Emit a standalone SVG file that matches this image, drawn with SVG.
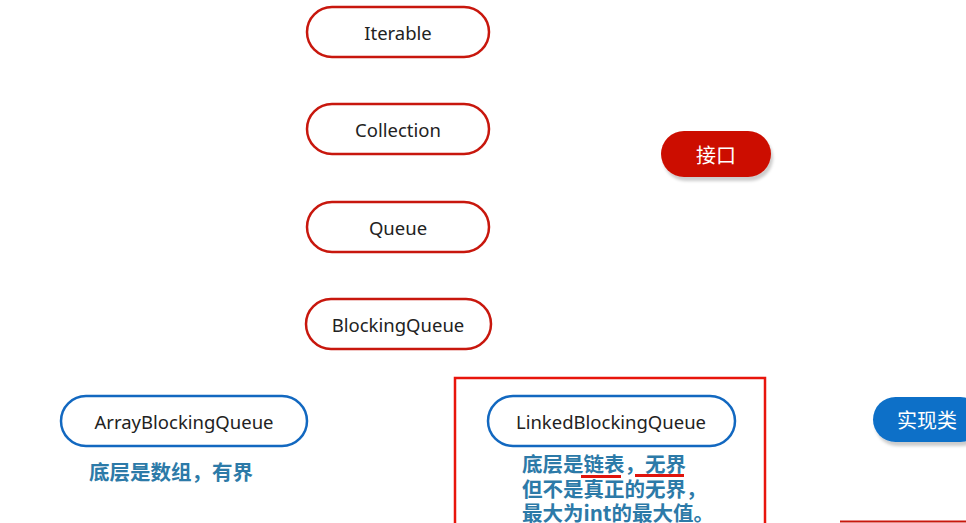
<svg xmlns="http://www.w3.org/2000/svg" width="966" height="523" viewBox="0 0 966 523">
<defs>
<filter id="sh" x="-20%" y="-20%" width="140%" height="160%"><feDropShadow dx="2" dy="4" stdDeviation="1.5" flood-color="#000" flood-opacity="0.2"/></filter>
</defs>
<style>
.ifc{fill:#fff;stroke:#c8170d;stroke-width:2.5}
.impl{fill:#fff;stroke:#1268c0;stroke-width:2.5}
.lbl{font-family:"Noto Sans","Open Sans",sans-serif;font-size:18.5px;fill:#222;text-anchor:middle;dominant-baseline:central}
.note{font-family:"Noto Sans CJK SC",sans-serif;font-size:20.5px;font-weight:bold;fill:#2c7aa8}
.tag{font-family:"Noto Sans CJK SC",sans-serif;font-size:20px;fill:#fff;text-anchor:middle;dominant-baseline:central}
</style>
<rect width="966" height="523" fill="#fff"/>
<g id="iterable"><rect class="ifc" x="307" y="7" width="182" height="50" rx="25"/><text class="lbl" x="398" y="32">Iterable</text></g>
<g id="collection"><rect class="ifc" x="307" y="104" width="182" height="50" rx="25"/><text class="lbl" x="398" y="129">Collection</text></g>
<g id="queue"><rect class="ifc" x="307" y="202" width="182" height="50" rx="25"/><text class="lbl" x="398" y="227">Queue</text></g>
<g id="blockingqueue"><rect class="ifc" x="306" y="299" width="185" height="50" rx="25"/><text class="lbl" x="398" y="324">BlockingQueue</text></g>
<g id="arrayblockingqueue"><rect class="impl" x="61" y="396" width="246" height="50" rx="25"/><text class="lbl" x="184" y="421">ArrayBlockingQueue</text></g>
<g id="linkedblockingqueue"><rect class="impl" x="488" y="396" width="247" height="50" rx="25"/><text class="lbl" x="611" y="421">LinkedBlockingQueue</text></g>
<g id="legend-interface"><rect x="661" y="131" width="110" height="46" rx="23" fill="#cc1100" filter="url(#sh)"/><text class="tag" x="716" y="154">接口</text></g>
<g id="legend-impl"><rect x="873" y="397" width="110" height="45" rx="22.5" fill="#0b6fc8" filter="url(#sh)"/><text class="tag" x="927" y="419">实现类</text></g>
<g id="highlight"><rect x="455" y="378" width="310" height="160" fill="none" stroke="#e8150c" stroke-width="2.5"/></g>
<g id="notes">
<text class="note" x="89" y="480">底层是数组，有界</text>
<text class="note" x="522" y="472">底层是链表，无界</text>
<text class="note" x="522" y="497">但不是真正的无界，</text>
<text class="note" x="522" y="521">最大为int的最大值。</text>
<line x1="581" y1="476.5" x2="621" y2="476.5" stroke="#e0140c" stroke-width="3"/>
<line x1="635" y1="475.5" x2="684" y2="475.5" stroke="#e0140c" stroke-width="3"/>
</g>
<g id="connectors"></g>
<line x1="840" y1="521.5" x2="966" y2="521.5" stroke="#c8170d" stroke-width="2"/>
</svg>
